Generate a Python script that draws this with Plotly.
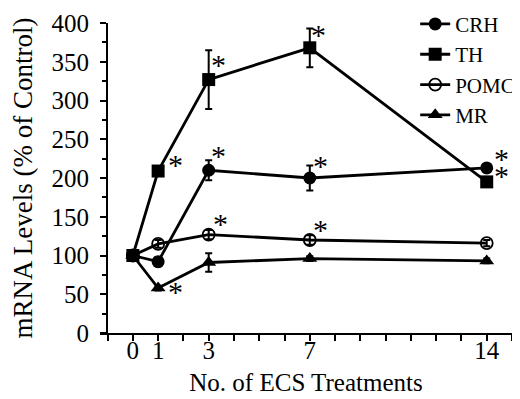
import plotly.graph_objects as go

x_vals = [0, 1, 3, 7, 14]
series_names = ["CRH", "TH", "POMC", "MR"]
crh = [100, 92, 210, 200, 213]
crh_err = [4, 6, 13, 16, 5]
th = [100, 209, 327, 368, 195]
th_err = [4, 5, 38, 25, 5]
pomc = [100, 115, 127, 120, 116]
pomc_err = [3, 5, 6, 6, 4]
mr = [100, 58, 91, 96, 93]
mr_err = [3, 3, 12, 3, 3]

x_tick_vals = list(range(-1, 16))
x_tick_labels = {0: "0", 1: "1", 3: "3", 7: "7", 14: "14"}

# asterisk positions (significance marks)
star_x = [1.65, 3.36, 7.3, 14.55, 14.55, 3.36, 7.38, 3.43, 7.38, 1.65]
star_y = [219, 348, 386, 226, 204, 230, 217, 143, 135, 55]

FONT = "Liberation Serif"
markers = {
    "CRH": dict(symbol="circle", size=13, color="black"),
    "TH": dict(symbol="square", size=13, color="black"),
    "POMC": dict(symbol="circle-open", size=12, color="black", line=dict(width=1.8, color="black")),
    "MR": dict(symbol="triangle-up", size=13, color="black"),
}
data = {"CRH": (crh, crh_err), "TH": (th, th_err), "POMC": (pomc, pomc_err), "MR": (mr, mr_err)}

fig = go.Figure()
for name in series_names:
    yv, ev = data[name]
    fig.add_trace(go.Scatter(
        x=x_vals, y=yv, name=name, mode="lines+markers",
        line=dict(color="black", width=2.8),
        marker=markers[name],
        error_y=dict(type="data", array=ev, visible=True, color="black", thickness=2, width=3.5),
    ))

for sx, sy in zip(star_x, star_y):
    fig.add_annotation(x=sx, y=sy, text="*", showarrow=False,
                       font=dict(family=FONT, size=30, color="black"), xshift=1, yshift=-1)

fig.update_layout(
    width=512, height=391,
    margin=dict(l=92, r=8, t=15, b=66, autoexpand=False),
    paper_bgcolor="white", plot_bgcolor="white",
    font=dict(family=FONT, color="black"),
    showlegend=True,
    legend=dict(x=0.765, y=1.062, xanchor="left", yanchor="top",
                bgcolor="rgba(0,0,0,0)", font=dict(family=FONT, size=21, color="black"),
                tracegroupgap=0, itemwidth=30),
    xaxis=dict(range=[-1.3, 15], showgrid=False, zeroline=False, showline=True, automargin=False,
               linecolor="black", linewidth=2, ticks="outside", ticklen=6, tickwidth=2,
               tickcolor="black", tickvals=x_tick_vals,
               ticktext=[x_tick_labels.get(v, "") for v in x_tick_vals],
               tickfont=dict(family=FONT, size=25), ticklabelstandoff=-12,
               title=dict(text="No. of ECS Treatments", font=dict(family=FONT, size=25), standoff=10)),
    yaxis=dict(range=[0, 400], anchor="free", position=0.017, showgrid=False, zeroline=False,
               automargin=False,
               showline=True, linecolor="black", linewidth=2, ticks="outside", ticklen=6,
               tickwidth=2, tickcolor="black", dtick=50, tick0=0,
               minor=dict(dtick=25, ticks="outside", ticklen=4, tickwidth=2, tickcolor="black"),
               tickfont=dict(family=FONT, size=25), ticklabelstandoff=6,
               title=dict(text="mRNA Levels (% of Control)", font=dict(family=FONT, size=27), standoff=12)),
)
fig.write_html("out.html")
